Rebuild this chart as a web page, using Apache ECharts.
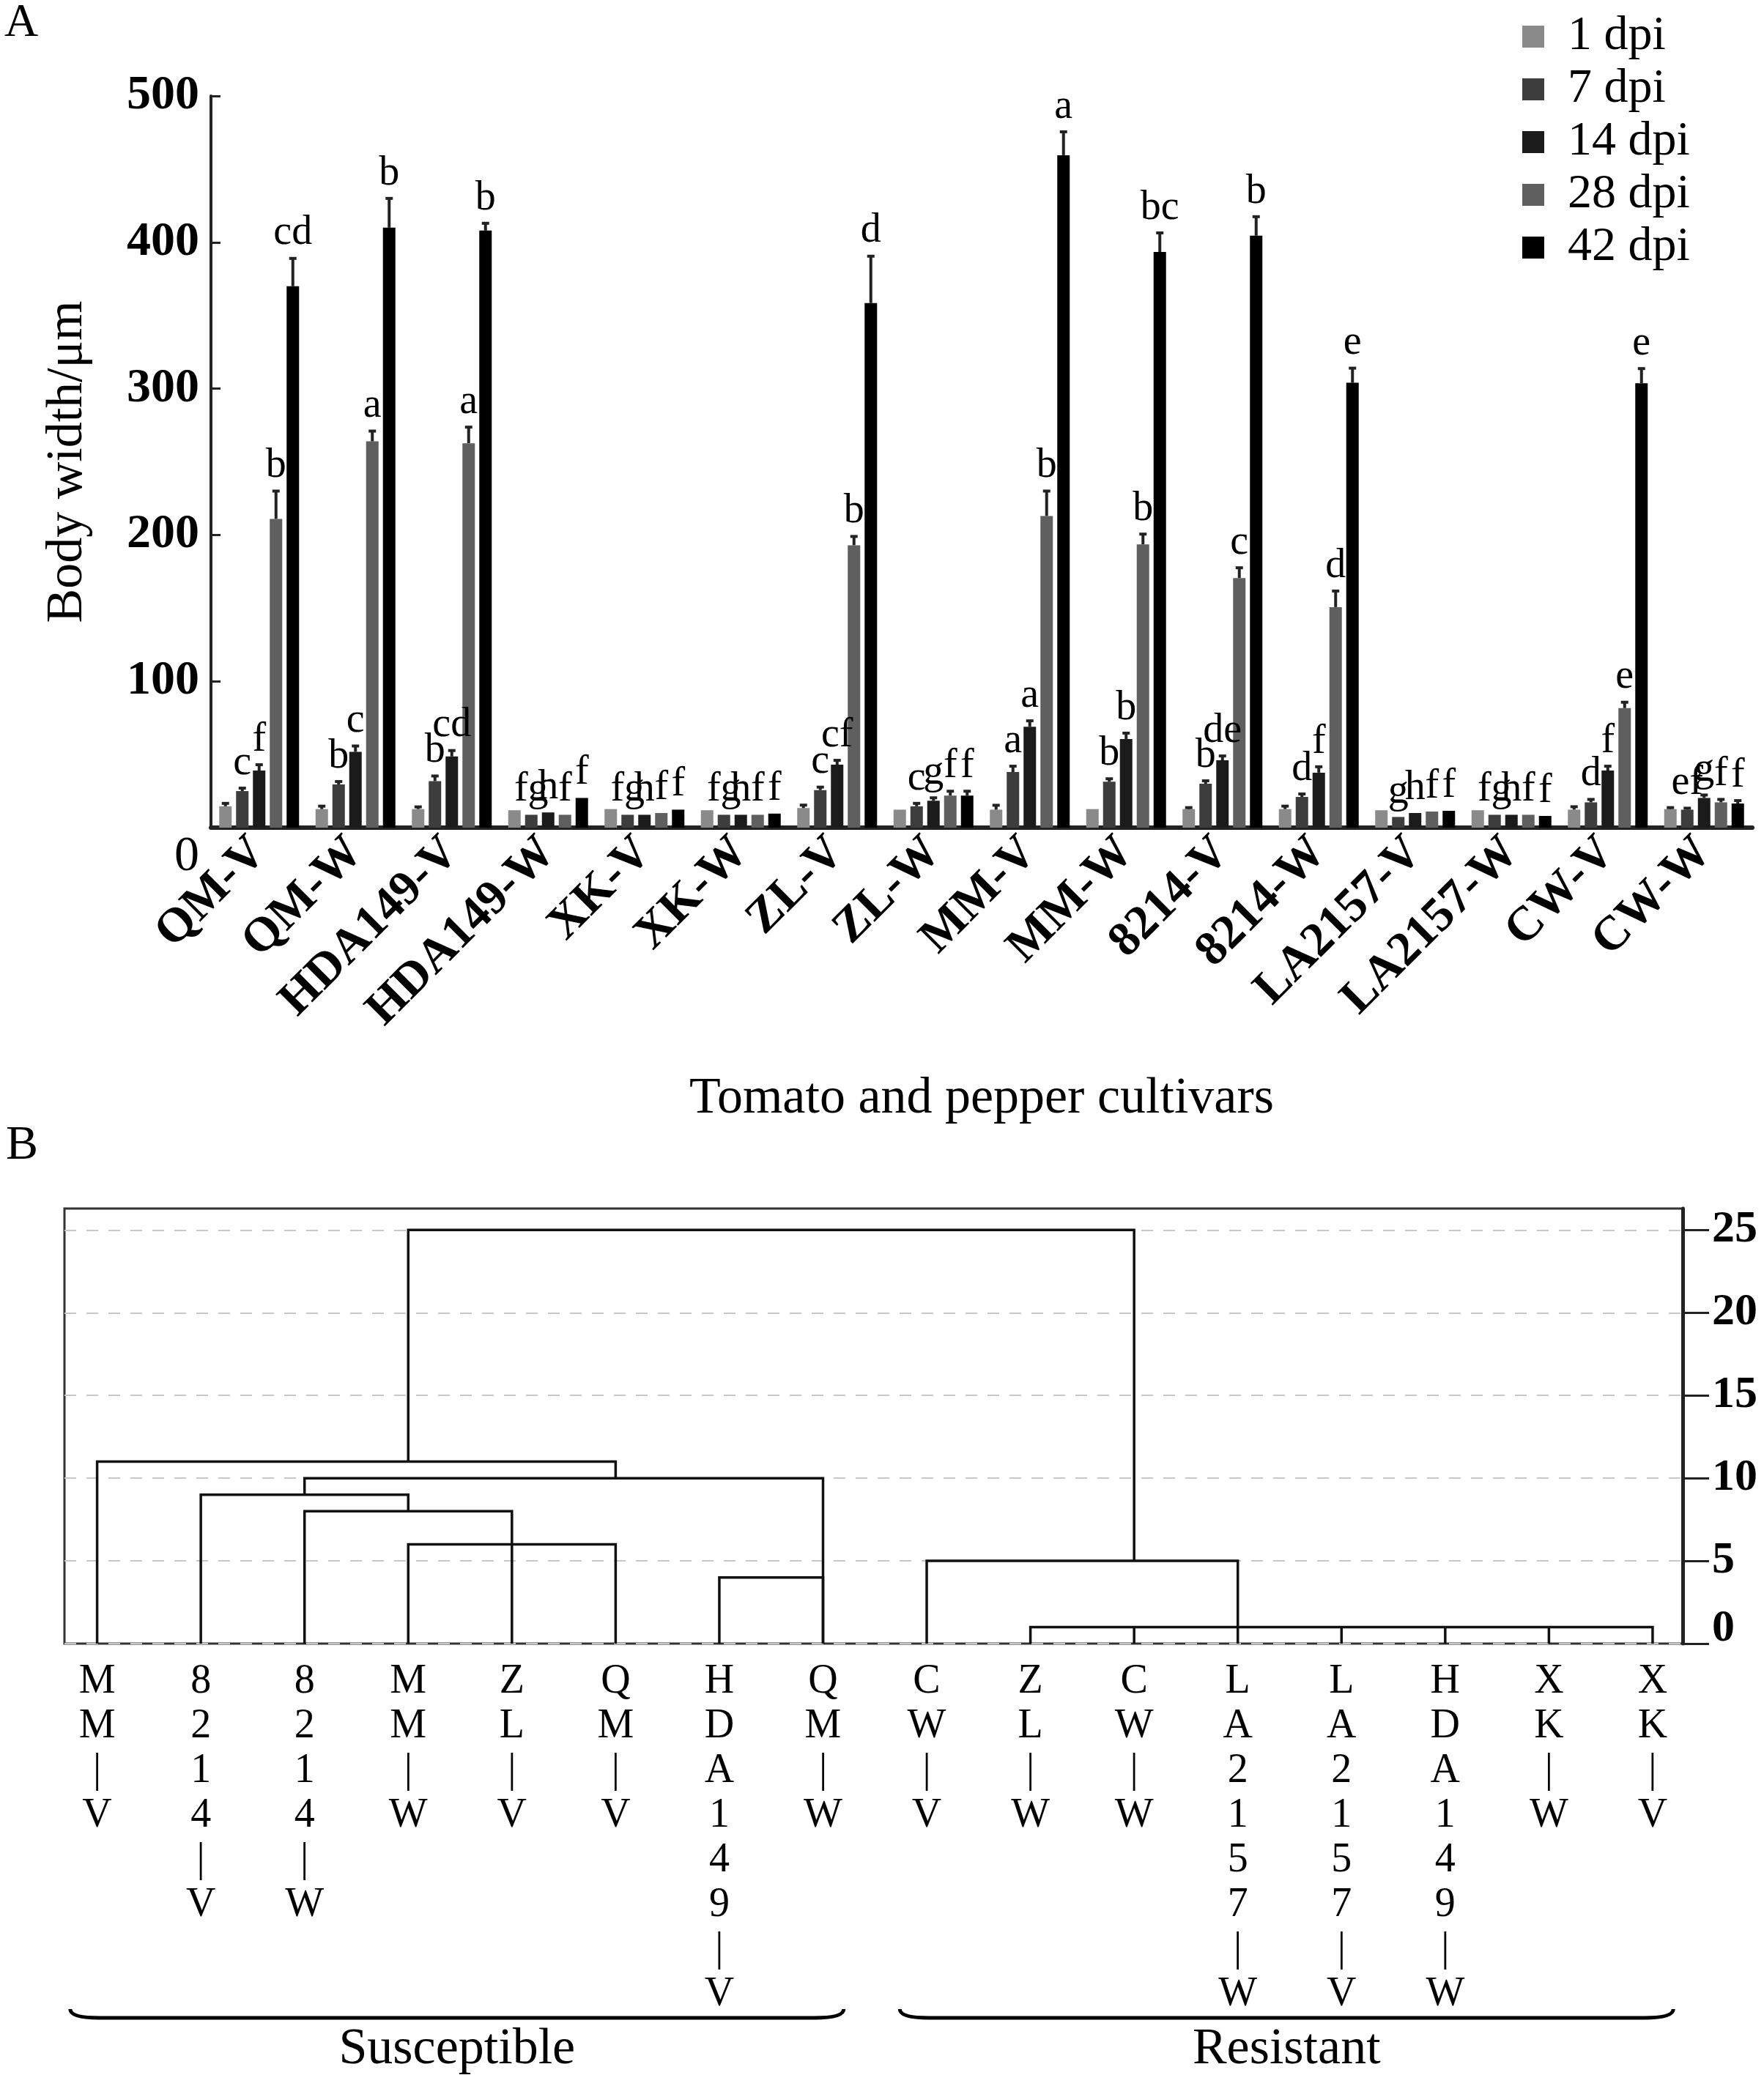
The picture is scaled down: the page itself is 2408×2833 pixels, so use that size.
<!DOCTYPE html>
<html>
<head>
<meta charset="utf-8">
<title>Body width / cluster</title>
<script src="https://cdn.jsdelivr.net/npm/echarts@6/dist/echarts.min.js"></script>
<style>
  html, body { margin: 0; padding: 0; background: #fff; }
  #main { width: 2408px; height: 2833px; }
</style>
</head>
<body>
<div id="main"></div>
<script>
// ---- panel A data ----
var cultivars = ['QM-V', 'QM-W', 'HDA149-V', 'HDA149-W', 'XK-V', 'XK-W', 'ZL-V', 'ZL-W',
    'MM-V', 'MM-W', '8214-V', '8214-W', 'LA2157-V', 'LA2157-W', 'CW-V', 'CW-W'];
var dpiNames = ['1 dpi', '7 dpi', '14 dpi', '28 dpi', '42 dpi'];

var width1 = [14.6, 12.7, 12.7, 11.9, 12.7, 11.9, 13.4, 12.3, 12.3, 12.7, 12.7, 12.7, 11.9, 11.9, 12.3, 12.7];
var width7 = [25, 29.5, 31.8, 8.8, 8.8, 8.8, 25.7, 14.6, 38, 31.4, 30, 21, 7.3, 8.8, 17.3, 12.3];
var width14 = [39, 51.8, 48.7, 10.4, 8.8, 8.8, 43, 18.4, 69, 60.6, 46, 37.6, 10, 8.8, 39, 20.3];
var width28 = [211, 264, 262.7, 8.8, 10, 8.8, 193, 21.9, 213, 193.6, 170.6, 150.7, 11, 8.8, 81.7, 17.3];
var width42 = [370, 410, 408, 20.3, 12.3, 9.6, 358.5, 21.9, 459.5, 393.4, 404.5, 304, 11.5, 8, 303.7, 16.5];

var err1 = [2, 2, 1.5, 0, 0, 0, 2, 0, 3, 0, 1, 2, 0, 0, 2, 1];
var err7 = [2, 2, 3.5, 0, 0, 0, 2, 2, 4, 2, 2, 2, 0, 0, 2, 1];
var err14 = [4, 4, 4, 0, 0, 0, 3, 2, 4, 4, 3, 4, 0, 0, 3, 2];
var err28 = [19, 7, 11, 0, 0, 0, 6, 3, 17, 7, 7, 11, 0, 0, 4, 2];
var err42 = [19, 20, 5, 0, 0, 0, 32, 3, 16, 13, 13, 10, 0, 0, 10, 2];

var letters1 = ['', '', '', '', '', '', '', '', '', '', '', '', '', '', '', ''];
var letters7 = ['c', 'b', 'b', 'fg', 'fg', 'fg', 'c', 'c', 'a', 'b', 'b', 'd', 'g', 'fg', 'd', 'ef'];
var letters14 = ['f', 'c', 'cd', 'h', 'h', 'h', 'cf', 'g', 'a', 'b', 'de', 'f', 'h', 'h', 'f', 'g'];
var letters28 = ['b', 'a', 'a', 'f', 'f', 'f', 'b', 'f', 'b', 'b', 'c', 'd', 'f', 'f', 'e', 'f'];
var letters42 = ['cd', 'b', 'b', 'f', 'f', 'f', 'd', 'f', 'a', 'bc', 'b', 'e', 'f', 'f', 'e', 'f'];

var widthTicks = [0, 100, 200, 300, 400, 500];

// ---- panel B data (dendrogram) ----
var leafNames = ['MM-V', '8214-V', '8214-W', 'MM-W', 'ZL-V', 'QM-V', 'HDA149-V', 'QM-W',
    'CW-V', 'ZL-W', 'CW-W', 'LA2157-W', 'LA2157-V', 'HDA149-W', 'XK-W', 'XK-V'];
// each link: left leaf, right leaf, join height, foot of left leg, foot of right leg
var linkLeft = [3, 0, 2, 1, 2, 3, 6, 8, 9, 10, 12, 13, 14];
var linkRight = [10, 5, 7, 3, 4, 5, 7, 11, 15, 10, 12, 13, 14];
var linkHeight = [25, 11, 10, 9, 8, 6, 4, 5, 1, 1, 1, 1, 1];
var footLeft = [11, 0, 9, 0, 0, 0, 0, 0, 0, 0, 0, 0, 0];
var footRight = [5, 10, 0, 8, 0, 0, 0, 0, 0, 0, 0, 0, 0];
var distTicks = [0, 5, 10, 15, 20, 25];

var groupNames = ['Susceptible', 'Resistant'];
var groupFirst = [0, 8];
var groupLast = [7, 15];

// ---- styles ----
var FONT = '"Liberation Serif", "Times New Roman", serif';
var colors = ['#8a8a8a', '#3d3d3d', '#1b1b1b', '#5f5f5f', '#000000'];
var BAR_W = 17;
var BAR_STEP = 23;

var widths = [width1, width7, width14, width28, width42];
var errs = [err1, err7, err14, err28, err42];
var letters = [letters1, letters7, letters14, letters28, letters42];

function errorBars(k) {
    return function (params, api) {
        var i = api.value(0), v = api.value(1), e = api.value(2);
        var base = api.coord([i, v]);
        var top = api.coord([i, v + e]);
        var x = base[0] + (k - 2) * BAR_STEP;
        var kids = [];
        if (e > 0) {
            kids.push({ type: 'line', shape: { x1: x, y1: base[1], x2: x, y2: top[1] },
                style: { stroke: '#222', lineWidth: 4 } });
            kids.push({ type: 'line', shape: { x1: x - 5, y1: top[1], x2: x + 5, y2: top[1] },
                style: { stroke: '#222', lineWidth: 4 } });
        }
        var txt = letters[k][i];
        if (txt) {
            kids.push({ type: 'text', x: x, y: top[1] - 6,
                style: { text: txt, fill: '#000', font: '56px ' + FONT, align: 'center', verticalAlign: 'bottom' } });
        }
        return { type: 'group', children: kids };
    };
}

function drawLink(params, api) {
    var l = api.value(0), r = api.value(1), h = api.value(2);
    var pts = [
        api.coord([l, api.value(3)]),
        api.coord([l, h]),
        api.coord([r, h]),
        api.coord([r, api.value(4)])
    ];
    return { type: 'polyline', shape: { points: pts },
        style: { stroke: '#111', lineWidth: 3.5, fill: null } };
}

function drawBrace(params, api) {
    var a = api.coord([api.value(0) - 0.26, 0]);
    var b = api.coord([api.value(1) + 0.2, 0]);
    var y = a[1] + 511;
    var path = 'M' + a[0] + ' ' + (y - 12) + ' Q' + a[0] + ' ' + y + ' ' + (a[0] + 40) + ' ' + y +
        ' L' + (b[0] - 40) + ' ' + y + ' Q' + b[0] + ' ' + y + ' ' + b[0] + ' ' + (y - 12);
    return { type: 'group', children: [
        { type: 'path', shape: { pathData: path }, style: { stroke: '#000', lineWidth: 5, fill: null } },
        { type: 'text', x: (a[0] + b[0]) / 2, y: y + 44,
            style: { text: groupNames[params.dataIndex], fill: '#000', font: '70px ' + FONT,
                align: 'center', verticalAlign: 'middle' } }
    ] };
}

window.onload = function () {
    var chart = echarts.init(document.getElementById('main'), null, { renderer: 'canvas' });

    var series = [];
    for (var k = 0; k < 5; k++) {
        series.push({
            name: dpiNames[k],
            type: 'bar',
            xAxisIndex: 0,
            yAxisIndex: 0,
            barWidth: BAR_W,
            barGap: '35.3%',
            itemStyle: { color: colors[k] },
            data: widths[k]
        });
    }
    for (var k = 0; k < 5; k++) {
        var d = [];
        for (var i = 0; i < cultivars.length; i++) {
            d.push([i, widths[k][i], errs[k][i]]);
        }
        series.push({
            type: 'custom',
            xAxisIndex: 0,
            yAxisIndex: 0,
            z: 5,
            renderItem: errorBars(k),
            data: d
        });
    }

    var links = [];
    for (var i = 0; i < linkLeft.length; i++) {
        links.push([linkLeft[i], linkRight[i], linkHeight[i], footLeft[i], footRight[i]]);
    }
    series.push({
        type: 'custom',
        xAxisIndex: 1,
        yAxisIndex: 1,
        z: 4,
        renderItem: drawLink,
        data: links
    });

    var groups = [];
    for (var i = 0; i < groupNames.length; i++) {
        groups.push([groupFirst[i], groupLast[i]]);
    }
    series.push({
        type: 'custom',
        xAxisIndex: 1,
        yAxisIndex: 1,
        clip: false,
        renderItem: drawBrace,
        data: groups
    });

    var leafIdx = leafNames.map(function (n, i) { return i; });

    var option = {
        backgroundColor: '#fff',
        animation: false,
        textStyle: { fontFamily: FONT },
        legend: {
            data: dpiNames,
            orient: 'vertical',
            left: 2073,
            top: 12,
            icon: 'rect',
            itemWidth: 30,
            itemHeight: 30,
            itemGap: 6,
            textStyle: { fontFamily: FONT, fontSize: 66, lineHeight: 66, color: '#000', padding: [0, 0, 0, 27] }
        },
        grid: [
            { left: 288, right: 16, top: 131, height: 999, outerBoundsMode: 'none' },
            { left: 88, right: 111, top: 1650, height: 594, show: true, borderColor: '#333', borderWidth: 3,
                backgroundColor: 'transparent', outerBoundsMode: 'none' }
        ],
        xAxis: [
            {
                gridIndex: 0,
                type: 'category',
                data: cultivars,
                axisLine: { lineStyle: { color: '#222', width: 6 } },
                axisTick: { show: false },
                axisLabel: { rotate: 45, interval: 0, margin: 24, color: '#000',
                    fontFamily: FONT, fontWeight: 'bold', fontSize: 66 },
                name: 'Tomato and pepper cultivars',
                nameLocation: 'middle',
                nameGap: 336,
                nameTextStyle: { fontFamily: FONT, fontSize: 70, color: '#000' }
            },
            {
                gridIndex: 1,
                type: 'value',
                min: -0.315,
                max: 15.29,
                axisLine: { show: false, onZero: false },
                axisTick: { show: false },
                splitLine: { show: false },
                axisLabel: {
                    customValues: leafIdx,
                    margin: 22,
                    color: '#000',
                    fontFamily: FONT,
                    fontSize: 56,
                    lineHeight: 61,
                    verticalAlign: 'top',
                    formatter: function (v) {
                        return leafNames[v].replace('-', '|').split('').join('\n');
                    }
                }
            }
        ],
        yAxis: [
            {
                gridIndex: 0,
                type: 'value',
                min: 0,
                max: 500,
                interval: 100,
                axisLine: { show: true, onZero: false, lineStyle: { color: '#222', width: 4 } },
                axisTick: { show: true, inside: true, length: 13, lineStyle: { color: '#222', width: 3 } },
                splitLine: { show: false },
                axisLabel: {
                    customValues: widthTicks,
                    margin: 16,
                    color: '#000',
                    fontFamily: FONT,
                    fontWeight: 'bold',
                    fontSize: 66,
                    formatter: function (v) { return v === 0 ? '{z|0}' : String(v); },
                    rich: { z: { fontFamily: FONT, fontWeight: 'normal', fontSize: 68, color: '#000', padding: [80, 0, 0, 0] } }
                },
                name: 'Body width/μm',
                nameLocation: 'middle',
                nameGap: 160,
                nameTextStyle: { fontFamily: FONT, fontSize: 70, color: '#000' }
            },
            {
                gridIndex: 1,
                type: 'value',
                position: 'right',
                min: 0,
                max: 26.3,
                interval: 5,
                axisLine: { show: true, onZero: false, lineStyle: { color: '#222', width: 5 } },
                axisTick: { show: true, length: 36, customValues: distTicks, lineStyle: { color: '#222', width: 3 } },
                splitLine: { show: true, lineStyle: { color: '#c8c8c8', width: 2, type: [16, 14] } },
                axisLabel: {
                    customValues: distTicks,
                    margin: 40,
                    color: '#000',
                    fontFamily: FONT,
                    fontWeight: 'bold',
                    fontSize: 62,
                    formatter: function (v) { return v === 0 ? '{z|0}' : String(v); },
                    rich: { z: { fontFamily: FONT, fontWeight: 'bold', fontSize: 62, color: '#000', padding: [0, 0, 40, 0] } }
                }
            }
        ],
        graphic: [
            { type: 'text', left: 6, top: 0, style: { text: 'A', font: '64px ' + FONT, fill: '#000' } },
            { type: 'text', left: 8, top: 1532, style: { text: 'B', font: '66px ' + FONT, fill: '#000' } }
        ],
        series: series
    };

    chart.setOption(option);
};
</script>
</body>
</html>
